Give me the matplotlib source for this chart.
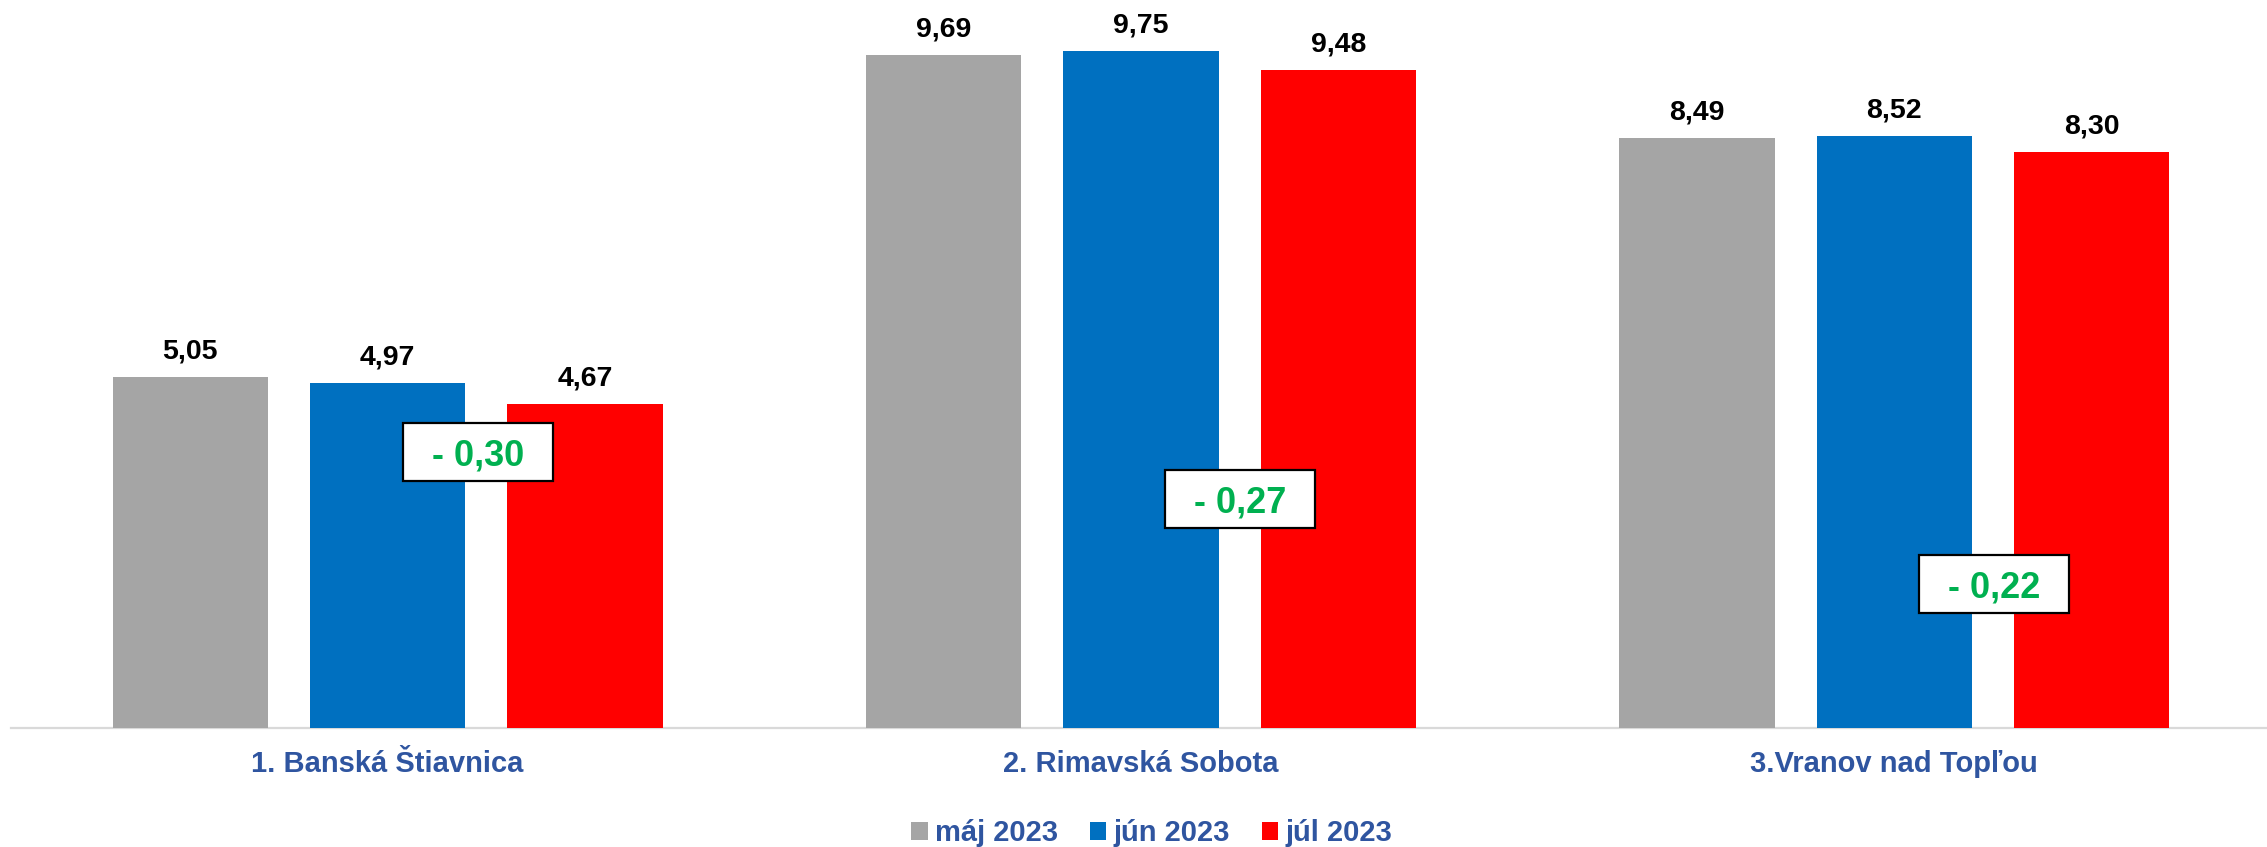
import matplotlib.pyplot as plt
import matplotlib.patches as mpatches
import numpy as np

plt.rcParams['font.family'] = ['Liberation Sans', 'DejaVu Sans']

okresy = ['1. Banská Štiavnica', '2. Rimavská Sobota', '3.Vranov nad Topľou']
mesiace = ['máj 2023', 'jún 2023', 'júl 2023']
maj = [5.05, 9.69, 8.49]
jun = [4.97, 9.75, 8.52]
jul = [4.67, 9.48, 8.30]
zmena = [-0.30, -0.27, -0.22]
# where the change boxes sit (x, y in data units)
box_x = [0.1195, 1.132, 2.133]
box_y = [3.97, 3.30, 2.07]

farby = ['#A5A5A5', '#0070C0', '#FF0000']
modra_text = '#2F55A0'
zelena = '#00B050'

W, H = 2267, 847
fig = plt.figure(figsize=(W / 100, H / 100), dpi=100)
ax = fig.add_axes([11 / W, (H - 728) / H, 2256 / W, 728 / H])

x = np.arange(len(okresy))
sirka = 0.2064
krok = 0.262
handles = []
for i, (vals, f) in enumerate(zip([maj, jun, jul], farby)):
    bars = ax.bar(x + (i - 1) * krok, vals, sirka, color=f, label=mesiace[i], zorder=2)
    ax.bar_label(bars, labels=[f'{v:.2f}'.replace('.', ',') for v in vals],
                 padding=9, fontsize=20.5, fontweight='bold', color='black')
    handles.append(bars)

for bx, by, z in zip(box_x, box_y, zmena):
    bw, bh = 150 / 753.3, 58 / 69.44
    ax.add_patch(mpatches.Rectangle((bx - bw / 2, by - bh / 2), bw, bh,
                                    facecolor='white', edgecolor='black',
                                    linewidth=1.6, zorder=3))
    txt = '- ' + f'{abs(z):.2f}'.replace('.', ',')
    ax.text(bx, by, txt, ha='center', va='center_baseline', fontsize=26,
            fontweight='bold', color=zelena, zorder=4)

ax.set_xlim(-0.5, -0.5 + 2256 / 753.3)
ax.set_ylim(0, 728 / 69.44)
ax.set_xticks(x)
ax.set_xticklabels(okresy, fontsize=21, fontweight='bold', color=modra_text)
ax.tick_params(axis='x', length=0, pad=16)
ax.set_yticks([])
for s in ['top', 'right', 'left']:
    ax.spines[s].set_visible(False)
ax.spines['bottom'].set_color('#D9D9D9')
ax.spines['bottom'].set_linewidth(1.6)
ax.spines['bottom'].set_zorder(1)

leg = fig.legend(handles, mesiace, loc='center', bbox_to_anchor=(0.508, 0.016),
                 ncol=3, frameon=False, handlelength=0.55, handleheight=0.55,
                 handletextpad=0.25, columnspacing=1.1,
                 prop={'size': 21, 'weight': 'bold'})
for t in leg.get_texts():
    t.set_color(modra_text)

fig.savefig('out.png', dpi=100)
